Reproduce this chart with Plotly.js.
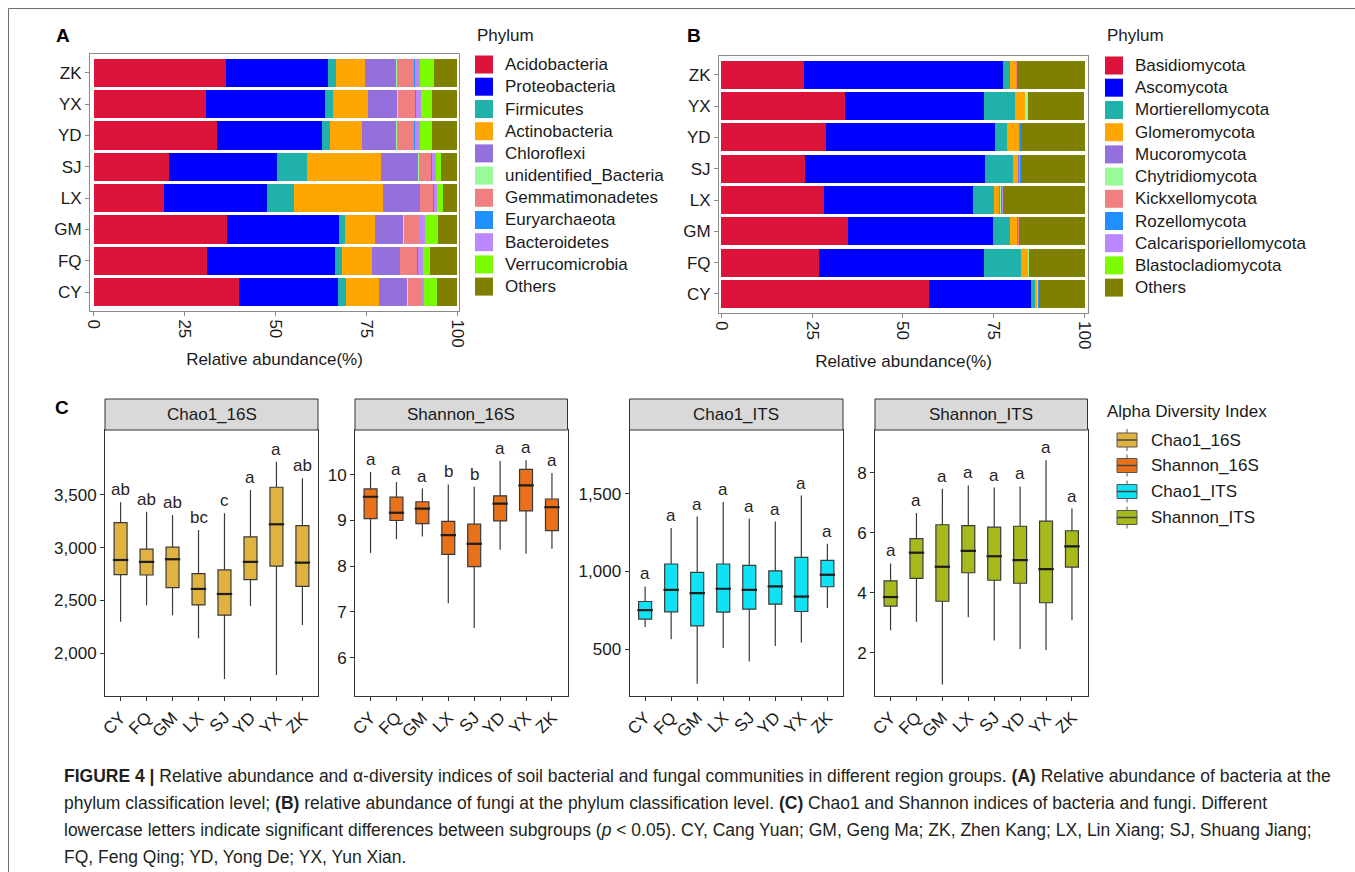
<!DOCTYPE html>
<html>
<head>
<meta charset="utf-8">
<script src="https://cdn.plot.ly/plotly-3.0.1.min.js"></script>
<style>
html,body{margin:0;padding:0;background:#fff;}
#chart{width:1355px;height:872px;}
</style>
</head>
<body>
<div id="chart"></div>
<script>
// ---------------- DATA ----------------
const sites = ['CY','FQ','GM','LX','SJ','YD','YX','ZK'];

// Panel A: bacteria phylum relative abundance (%), order CY..ZK
const bacPhyla = ['Acidobacteria','Proteobacteria','Firmicutes','Actinobacteria','Chloroflexi','unidentified_Bacteria','Gemmatimonadetes','Euryarchaeota','Bacteroidetes','Verrucomicrobia','Others'];
const bacColors = ['#DC143C','#0000FF','#20B2AA','#FFA500','#9370DB','#98FB98','#F08080','#1E90FF','#BB88FF','#7CFC00','#808000'];
const acidobacteria   = [40.0, 31.2, 36.8, 19.3, 20.7, 33.9, 30.8, 36.3];
const proteobacteria  = [27.3, 35.2, 30.7, 28.4, 29.7, 28.9, 32.8, 28.3];
const firmicutes      = [2.1, 1.9, 1.6, 7.5, 8.4, 2.1, 2.3, 2.2];
const actinobacteria  = [9.2, 8.2, 8.3, 24.4, 20.2, 8.8, 9.6, 7.8];
const chloroflexi     = [7.6, 7.7, 7.8, 10.1, 10.1, 9.5, 7.9, 8.6];
const unidentifiedBacteria = [0.2, 0.2, 0.1, 0.2, 0.4, 0.2, 0.2, 0.2];
const gemmatimonadetes = [3.8, 4.5, 4.4, 3.4, 3.3, 4.7, 4.9, 4.7];
const euryarchaeota   = [0.1, 0.3, 0.2, 0.2, 0.3, 0.3, 0.2, 0.2];
const bacteroidetes   = [0.7, 1.5, 1.3, 1.0, 1.0, 1.5, 1.3, 1.6];
const verrucomicrobia = [3.5, 1.9, 3.6, 1.5, 1.5, 3.1, 3.1, 3.7];
const bacOthers       = [5.5, 7.4, 5.2, 4.0, 4.4, 7.0, 6.9, 6.4];
const bacValues = [acidobacteria, proteobacteria, firmicutes, actinobacteria, chloroflexi, unidentifiedBacteria, gemmatimonadetes, euryarchaeota, bacteroidetes, verrucomicrobia, bacOthers];

// Panel B: fungi phylum relative abundance (%), order CY..ZK
const fungPhyla = ['Basidiomycota','Ascomycota','Mortierellomycota','Glomeromycota','Mucoromycota','Chytridiomycota','Kickxellomycota','Rozellomycota','Calcarisporiellomycota','Blastocladiomycota','Others'];
const fungColors = bacColors;
const basidiomycota     = [57.1, 26.9, 35.0, 28.3, 23.0, 28.8, 34.0, 22.7];
const ascomycota        = [28.2, 45.4, 39.9, 40.9, 49.5, 46.5, 38.3, 54.8];
const mortierellomycota = [1.0, 10.3, 4.5, 5.8, 7.9, 3.3, 8.6, 1.9];
const glomeromycota     = [0.6, 1.8, 2.1, 1.5, 1.3, 3.4, 2.7, 1.6];
const mucoromycota      = [0.1, 0.1, 0.1, 0.3, 0.2, 0.1, 0.1, 0.1];
const chytridiomycota   = [0.1, 0.1, 0.1, 0.1, 0.1, 0.1, 0.6, 0.1];
const kickxellomycota   = [0.1, 0.1, 0.1, 0.2, 0.3, 0.1, 0.1, 0.1];
const rozellomycota     = [0.1, 0.1, 0.1, 0.1, 0.1, 0.1, 0.1, 0.2];
const calcarisporiellomycota = [0.0, 0.0, 0.0, 0.3, 0.1, 0.0, 0.0, 0.0];
const blastocladiomycota = [0.0, 0.0, 0.0, 0.0, 0.0, 0.0, 0.0, 0.0];
const fungOthers        = [12.7, 15.2, 18.1, 22.5, 17.5, 17.6, 15.4, 18.5];
const fungValues = [basidiomycota, ascomycota, mortierellomycota, glomeromycota, mucoromycota, chytridiomycota, kickxellomycota, rozellomycota, calcarisporiellomycota, blastocladiomycota, fungOthers];

// Panel C: alpha diversity box summaries, order CY..ZK
const indexNames = ['Chao1_16S','Shannon_16S','Chao1_ITS','Shannon_ITS'];
const indexColors = ['#E0B23F','#E8711A','#10E2F6','#A8B91E'];

const chao16S_lower  = [2300, 2455, 2361, 2143, 1758, 2449, 1795, 2269];
const chao16S_q1     = [2745, 2742, 2622, 2458, 2361, 2698, 2825, 2635];
const chao16S_median = [2884, 2866, 2891, 2610, 2562, 2866, 3222, 2859];
const chao16S_q3     = [3238, 2986, 3005, 2755, 2790, 3102, 3573, 3209];
const chao16S_upper  = [3431, 3342, 3311, 3169, 3326, 3547, 3815, 3658];
const chao16S_letters = ['ab','ab','ab','bc','c','a','a','ab'];

const shannon16S_lower  = [8.29, 8.59, 8.65, 7.19, 6.65, 8.36, 8.27, 8.38];
const shannon16S_q1     = [9.04, 9.00, 8.93, 8.26, 7.99, 8.99, 9.21, 8.78];
const shannon16S_median = [9.52, 9.17, 9.26, 8.68, 8.49, 9.37, 9.77, 9.29];
const shannon16S_q3     = [9.69, 9.51, 9.41, 8.98, 8.92, 9.54, 10.12, 9.47];
const shannon16S_upper  = [10.06, 9.84, 9.70, 9.79, 9.74, 10.30, 10.32, 10.04];
const shannon16S_letters = ['a','a','a','b','b','a','a','a'];

const chaoITS_lower  = [643, 565, 278, 508, 422, 522, 544, 765];
const chaoITS_q1     = [694, 741, 651, 739, 758, 790, 743, 902];
const chaoITS_median = [752, 882, 861, 889, 882, 904, 839, 979];
const chaoITS_q3     = [807, 1048, 994, 1048, 1039, 1004, 1090, 1071];
const chaoITS_upper  = [904, 1279, 1353, 1446, 1339, 1321, 1488, 1178];
const chaoITS_letters = ['a','a','a','a','a','a','a','a'];

const shannonITS_lower  = [2.75, 3.04, 0.94, 3.19, 2.41, 2.13, 2.09, 3.09];
const shannonITS_q1     = [3.56, 4.48, 3.72, 4.67, 4.42, 4.32, 3.67, 4.86];
const shannonITS_median = [3.86, 5.34, 4.87, 5.40, 5.22, 5.09, 4.79, 5.55];
const shannonITS_q3     = [4.40, 5.81, 6.27, 6.24, 6.19, 6.22, 6.39, 6.07];
const shannonITS_upper  = [4.98, 6.66, 7.47, 7.58, 7.51, 7.55, 8.42, 6.81];
const shannonITS_letters = ['a','a','a','a','a','a','a','a'];

const captionLines = [
  '<b>FIGURE 4 |</b> Relative abundance and α-diversity indices of soil bacterial and fungal communities in different region groups. <b>(A)</b> Relative abundance of bacteria at the',
  'phylum classification level; <b>(B)</b> relative abundance of fungi at the phylum classification level. <b>(C)</b> Chao1 and Shannon indices of bacteria and fungi. Different',
  'lowercase letters indicate significant differences between subgroups (<i>p</i> &lt; 0.05). CY, Cang Yuan; GM, Geng Ma; ZK, Zhen Kang; LX, Lin Xiang; SJ, Shuang Jiang;',
  'FQ, Feng Qing; YD, Yong De; YX, Yun Xian.'
];

// ---------------- LAYOUT HELPERS ----------------
const W = 1355, H = 872;
const px = x => x / W;
const py = y => 1 - y / H;
const FONT = 'Liberation Sans, Arial, Helvetica, sans-serif';
const TXT = '#1a1a1a';

const traces = [];
const shapes = [];
const annotations = [];

// stacked bars A (x,y) and B (x2,y2)
function addBars(names, colors, values, xa, ya) {
  names.forEach((n, i) => {
    traces.push({
      type: 'bar', orientation: 'h', name: n,
      x: values[i], y: sites, xaxis: xa, yaxis: ya,
      marker: {color: colors[i], line: {width: 0}},
      showlegend: false, hoverinfo: 'x+y+name'
    });
  });
}
addBars(bacPhyla, bacColors, bacValues, 'x', 'y');
addBars(fungPhyla, fungColors, fungValues, 'x2', 'y2');

// legends for A and B
function addPhylumLegend(names, colors, x0, ys, textX) {
  annotations.push({xref:'paper', yref:'paper', x:px(x0), y:py(35), xanchor:'left', yanchor:'middle',
    text:'Phylum', showarrow:false, font:{family:FONT, size:17, color:TXT}});
  names.forEach((n, i) => {
    shapes.push({type:'rect', xref:'paper', yref:'paper', x0:px(x0), x1:px(x0+18), y0:py(ys[i]+9), y1:py(ys[i]-9),
      fillcolor: colors[i], line:{width:0}});
    annotations.push({xref:'paper', yref:'paper', x:px(textX), y:py(ys[i]), xanchor:'left', yanchor:'middle',
      text:n, showarrow:false, font:{family:FONT, size:17, color:TXT}});
  });
}
const legAy = [64.5, 86.7, 109, 131.2, 153.4, 175.6, 197.8, 220, 242.2, 264.4, 286.6];
const legBy = [65.5, 87.7, 110, 132.2, 154.4, 176.6, 198.8, 221, 243.2, 265.4, 287.6];
addPhylumLegend(bacPhyla, bacColors, 475, legAy, 503);
addPhylumLegend(fungPhyla, fungColors, 1105, legBy, 1133);

// box panels
const boxSets = [
  {lower:chao16S_lower, q1:chao16S_q1, med:chao16S_median, q3:chao16S_q3, upper:chao16S_upper, letters:chao16S_letters},
  {lower:shannon16S_lower, q1:shannon16S_q1, med:shannon16S_median, q3:shannon16S_q3, upper:shannon16S_upper, letters:shannon16S_letters},
  {lower:chaoITS_lower, q1:chaoITS_q1, med:chaoITS_median, q3:chaoITS_q3, upper:chaoITS_upper, letters:chaoITS_letters},
  {lower:shannonITS_lower, q1:shannonITS_q1, med:shannonITS_median, q3:shannonITS_q3, upper:shannonITS_upper, letters:shannonITS_letters}
];
const panelX = [[105,318],[355,567.5],[629.5,843],[875,1087.5]];
const panelTop = 430, panelBottom = 696, stripTop = 399;
const yRanges = [[1596,4115],[5.16,10.98],[200,1909],[0.56,9.43]];
const yTicks = [[2000,2500,3000,3500],[6,7,8,9,10],[500,1000,1500],[2,4,6,8]];
const yFormats = [',d', '', ',d', ''];

boxSets.forEach((b, k) => {
  const xa = 'x' + (k+3), ya = 'y' + (k+3);
  traces.push({
    type:'box', name: indexNames[k], x: sites, xaxis: xa, yaxis: ya,
    q1: b.q1, median: b.med, q3: b.q3, lowerfence: b.lower, upperfence: b.upper,
    fillcolor: indexColors[k], line:{color:'#3a3a3a', width:1.2},
    width: 0.5, whiskerwidth: 0, boxpoints: false, showlegend:false, hoverinfo:'y'
  });
  // bold median bars (ggplot draws a heavier median line)
  traces.push({
    type:'scatter', mode:'markers', x: sites, y: b.med, xaxis: xa, yaxis: ya,
    marker:{symbol:'line-ew', size:11, line:{width:2.2, color:'#1e1e1e'}},
    showlegend:false, hoverinfo:'skip'
  });
  b.letters.forEach((l, i) => {
    annotations.push({xref:xa, yref:ya, x:sites[i], y:b.upper[i], yanchor:'bottom', xanchor:'center', yshift:1,
      text:l, showarrow:false, font:{family:FONT, size:17, color:'#2a1f1f'}});
  });
  // strip
  shapes.push({type:'rect', xref:'paper', yref:'paper', x0:px(panelX[k][0]), x1:px(panelX[k][1]), y0:py(panelTop), y1:py(stripTop),
    fillcolor:'#D9D9D9', line:{color:'#333333', width:1}});
  annotations.push({xref:'paper', yref:'paper', x:px((panelX[k][0]+panelX[k][1])/2), y:py((panelTop+stripTop)/2), xanchor:'center', yanchor:'middle',
    text:indexNames[k], showarrow:false, font:{family:FONT, size:17, color:TXT}});
});

// legend C
annotations.push({xref:'paper', yref:'paper', x:px(1105), y:py(412), xanchor:'left', yanchor:'middle',
  text:'Alpha Diversity Index', showarrow:false, font:{family:FONT, size:17, color:TXT}});
const legCy = [440, 465.5, 491.5, 517.5];
indexNames.forEach((n, i) => {
  const c = legCy[i];
  shapes.push({type:'line', xref:'paper', yref:'paper', x0:px(1127), x1:px(1127), y0:py(c-11), y1:py(c+11), line:{color:'#555', width:1}});
  shapes.push({type:'rect', xref:'paper', yref:'paper', x0:px(1117), x1:px(1137), y0:py(c+7), y1:py(c-7), fillcolor:indexColors[i], line:{color:'#555', width:1}});
  shapes.push({type:'line', xref:'paper', yref:'paper', x0:px(1117), x1:px(1137), y0:py(c), y1:py(c), line:{color:'#444', width:1.5}});
  annotations.push({xref:'paper', yref:'paper', x:px(1149), y:py(c), xanchor:'left', yanchor:'middle',
    text:n, showarrow:false, font:{family:FONT, size:17, color:TXT}});
});

// panel letters
[['A',63,35],['B',694,35],['C',62,407]].forEach(([t,x,y]) => {
  annotations.push({xref:'paper', yref:'paper', x:px(x), y:py(y), xanchor:'center', yanchor:'middle',
    text:'<b>'+t+'</b>', showarrow:false, font:{family:FONT, size:19, color:'#000'}});
});

// caption
const capY = [776, 803, 830, 857];
captionLines.forEach((t, i) => {
  annotations.push({xref:'paper', yref:'paper', x:px(62), y:py(capY[i]), xanchor:'left', yanchor:'middle',
    text:t, showarrow:false, font:{family:'Liberation Sans, Arial, sans-serif', size:17.5, color:'#231f20'}});
});

// outer frame lines
shapes.push({type:'line', xref:'paper', yref:'paper', x0:px(8.5), x1:1, y0:py(8.5), y1:py(8.5), line:{color:'#6e6e6e', width:1}});
shapes.push({type:'line', xref:'paper', yref:'paper', x0:px(8.5), x1:px(8.5), y0:py(8.5), y1:0, line:{color:'#6e6e6e', width:1}});

// axes
const tickFont = {family:FONT, size:17, color:TXT};
function barX(dom, range) {
  return {domain:[px(dom[0]), px(dom[1])], range:range, tickvals:[0,25,50,75,100], ticktext:['0','25','50','75','100'],
    tickangle:90, showline:true, mirror:true, linecolor:'#8a8a8a', linewidth:1, ticks:'outside', ticklen:4, tickcolor:'#8a8a8a',
    showgrid:false, zeroline:false, tickfont:tickFont,
    title:{text:'Relative abundance(%)', font:{family:FONT, size:17, color:TXT}, standoff:6}};
}
function barY(dom, anchor) {
  return {domain:[py(dom[1]), py(dom[0])], type:'category', categoryorder:'array', categoryarray:sites, range:[-0.6,7.6],
    showline:true, mirror:true, linecolor:'#8a8a8a', linewidth:1, ticks:'outside', ticklen:4, tickcolor:'#8a8a8a',
    showgrid:false, zeroline:false, tickfont:tickFont, anchor:anchor};
}

const layout = {
  width: W, height: H,
  margin:{l:0, r:0, t:0, b:0, pad:0},
  paper_bgcolor:'#ffffff', plot_bgcolor:'#ffffff',
  barmode:'stack', bargap:0.1,
  showlegend:false,
  font:{family:FONT, size:17, color:TXT},
  xaxis: Object.assign(barX([90,459], [-1, 100.5]), {anchor:'y'}),
  yaxis: barY([54,311], 'x'),
  xaxis2: Object.assign(barX([719,1088], [-0.6, 100.9]), {anchor:'y2'}),
  yaxis2: barY([56,312.7], 'x2'),
  shapes: shapes,
  annotations: annotations
};

for (let k = 0; k < 4; k++) {
  const n = k + 3;
  layout['xaxis' + n] = {
    domain:[px(panelX[k][0]), px(panelX[k][1])], anchor:'y' + n, type:'category', categoryorder:'array', categoryarray:sites,
    range:[-0.6, 7.6], tickangle:-45, showline:true, mirror:true, linecolor:'#333333', linewidth:1,
    ticks:'outside', ticklen:4, tickcolor:'#333333', showgrid:false, zeroline:false, tickfont:tickFont
  };
  layout['yaxis' + n] = {
    domain:[py(panelBottom), py(panelTop)], anchor:'x' + n, range:yRanges[k], tickvals:yTicks[k], tickformat:yFormats[k],
    showline:true, mirror:true, linecolor:'#333333', linewidth:1,
    ticks:'outside', ticklen:4, tickcolor:'#333333', showgrid:false, zeroline:false, tickfont:tickFont
  };
}

Plotly.newPlot('chart', traces, layout, {staticPlot:true, displayModeBar:false});
</script>
</body>
</html>
